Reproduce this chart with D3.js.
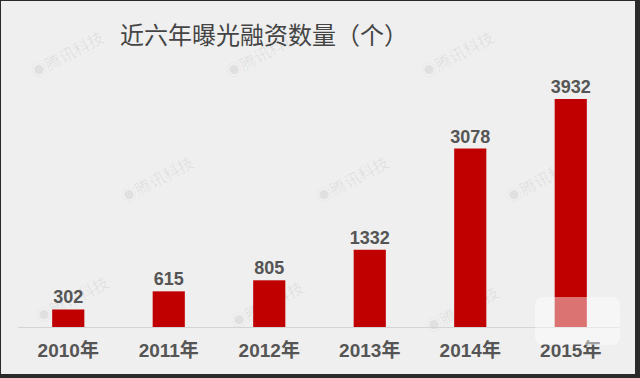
<!DOCTYPE html>
<html><head><meta charset="utf-8">
<script src="https://cdn.jsdelivr.net/npm/d3@7"></script>
<style>
html,body{margin:0;padding:0;background:#fff;}
svg{display:block;}
</style></head>
<body>
<svg id="chart" width="640" height="378"></svg>
<script>
const title = "近六年曝光融资数量（个）";
const categories = ["2010年","2011年","2012年","2013年","2014年","2015年"];
const values = [302, 615, 805, 1332, 3078, 3932];
const watermarkText = "腾讯科技";

const svg = d3.select("#chart");
const W = 640, H = 378;

// frame
svg.append("rect").attr("x",0).attr("y",0).attr("width",W).attr("height",H).attr("fill","#2a2a2a");
svg.append("rect").attr("x",1).attr("y",1).attr("width",634).attr("height",373).attr("fill","#efefef");

// watermarks
const wm = [[70,60],[265,60],[460,60],[160,185],[355,185],[545,185],[75,305],[270,310],[465,315]];
svg.append("g").selectAll("text").data(wm).join("text")
  .attr("transform",d=>`translate(${d[0]},${d[1]}) rotate(-28)`)
  .attr("text-anchor","middle")
  .attr("font-family","Noto Sans CJK SC")
  .attr("font-size",16)
  .attr("fill","#000").attr("fill-opacity",0.07)
  .text("◉"+watermarkText);

const x = d3.scaleBand().domain(categories).range([18,621]).paddingInner(0.68).paddingOuter(0.34);
const y = d3.scaleLinear().domain([0, 3932]).range([327, 99]);

// baseline
svg.append("line").attr("x1",18).attr("x2",620).attr("y1",y(0)+0.5).attr("y2",y(0)+0.5)
  .attr("stroke","#d4d4d4").attr("stroke-width",1);

// bars
svg.append("g").selectAll("rect").data(values).join("rect")
  .attr("x",(d,i)=>x(categories[i]))
  .attr("y",d=>y(d))
  .attr("width",x.bandwidth())
  .attr("height",d=>y(0)-y(d))
  .attr("fill","#c00000");

// value labels
svg.append("g").selectAll("text").data(values).join("text")
  .attr("x",(d,i)=>x(categories[i])+x.bandwidth()/2)
  .attr("y",d=>y(d)-6)
  .attr("text-anchor","middle")
  .attr("font-family","'Liberation Sans', Arial, sans-serif")
  .attr("font-weight","bold")
  .attr("font-size",18)
  .attr("fill","#555")
  .text(d=>d);

// x axis labels
const xAxis = d3.axisBottom(x).tickSize(0).tickPadding(0);
const gx = svg.append("g").attr("transform",`translate(0,${y(0)})`).call(xAxis);
gx.select(".domain").remove();
gx.selectAll("text")
  .attr("y",30).attr("dy",0)
  .attr("font-family","'Liberation Sans', Arial, 'Noto Sans CJK SC', sans-serif")
  .attr("font-weight","bold")
  .attr("font-size",19)
  .attr("fill","#555");

// title
svg.append("text").attr("x",264).attr("y",44).attr("text-anchor","middle")
  .attr("font-family","'Noto Sans CJK SC', sans-serif")
  .attr("font-size",24)
  .attr("fill","#444")
  .text(title);

// corner logo overlay
svg.append("rect").attr("x",535).attr("y",297).attr("width",85).attr("height",48).attr("rx",8)
  .attr("fill","#fff").attr("fill-opacity",0.45);
</script>
</body></html>
